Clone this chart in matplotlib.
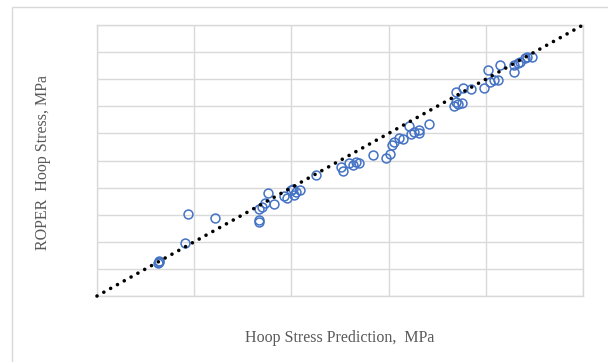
import matplotlib
matplotlib.use("Agg")
import matplotlib.pyplot as plt
from matplotlib.patches import Rectangle

# Data (axis units 0-100, no tick labels shown)
predicted = [12.7, 12.8, 12.6, 18.1, 18.7, 24.3, 33.3, 33.3, 33.3, 33.9, 34.6, 35.1,
             36.5, 38.5, 39.0, 40.0, 40.4, 40.6, 40.9, 41.7, 45.1, 50.2, 50.6, 51.8,
             52.7, 53.2, 53.9, 56.7, 59.4, 60.2, 60.7, 61.2, 62.2, 63.0, 64.1, 64.7,
             65.2, 66.3, 66.3, 68.4, 73.5, 73.8, 74.3, 75.1, 73.9, 75.3, 76.9, 79.7,
             80.5, 80.9, 81.7, 82.6, 82.9, 85.8, 85.8, 86.7, 87.1, 88.0, 88.4, 89.5]
roper = [12.9, 12.4, 12.2, 19.7, 30.1, 28.8, 32.1, 28.0, 27.4, 32.9, 34.4, 37.9,
         33.9, 36.8, 36.1, 39.0, 39.5, 37.4, 38.3, 39.0, 44.8, 47.5, 46.0, 49.1,
         48.2, 49.4, 49.1, 52.1, 50.9, 52.5, 55.6, 56.8, 58.3, 57.9, 62.9, 59.6,
         60.6, 61.3, 60.1, 63.4, 70.2, 71.5, 70.9, 71.4, 75.1, 76.9, 76.4, 76.7,
         83.4, 78.8, 79.8, 79.8, 85.3, 82.8, 85.3, 86.1, 86.5, 87.7, 88.1, 88.3]
diag = [0, 100]

x_label = "Hoop Stress Prediction,  MPa"
y_label = "ROPER  Hoop Stress, MPa"

fig = plt.figure(figsize=(6.08, 3.62), dpi=100)
fig.patch.set_facecolor("white")
fig.patches.append(Rectangle((12 / 608, -0.1), 1.2, (362 - 7) / 362 + 0.1,
                             transform=fig.transFigure, fill=False,
                             edgecolor="#d9d9d9", linewidth=1.0))

ax = fig.add_axes([97 / 608, (362 - 296) / 362, (583 - 97) / 608, (296 - 25) / 362])
ax.set_xlim(0, 100)
ax.set_ylim(0, 100)
ax.set_xticks(range(0, 101, 20))
ax.set_yticks(range(0, 101, 10))
ax.tick_params(length=0, labelbottom=False, labelleft=False)
ax.grid(True, color="#d9d9d9", linewidth=1.0)
ax.set_axisbelow(True)
for s in ax.spines.values():
    s.set_color("#d9d9d9")
    s.set_linewidth(1.0)

ax.plot(predicted, roper, linestyle="none", marker="o", markersize=6.4,
        markerfacecolor="none", markeredgecolor="#4472C4", markeredgewidth=1.1,
        zorder=3)
line, = ax.plot(diag, diag, color="black", linewidth=2.6, clip_on=False,
                solid_capstyle="round", dash_capstyle="round", zorder=4)
line.set_dashes((0.01, 2.15))

font = dict(family="Liberation Serif", color="#595959", fontsize=11.5)
fig.text(340 / 608, 1 - 338 / 362, x_label, ha="center", va="center", **font)
fig.text(43 / 608, 1 - 162 / 362, y_label, ha="center", va="center",
         rotation=90, **font)

fig.savefig("out.png", dpi=100, facecolor="white")
